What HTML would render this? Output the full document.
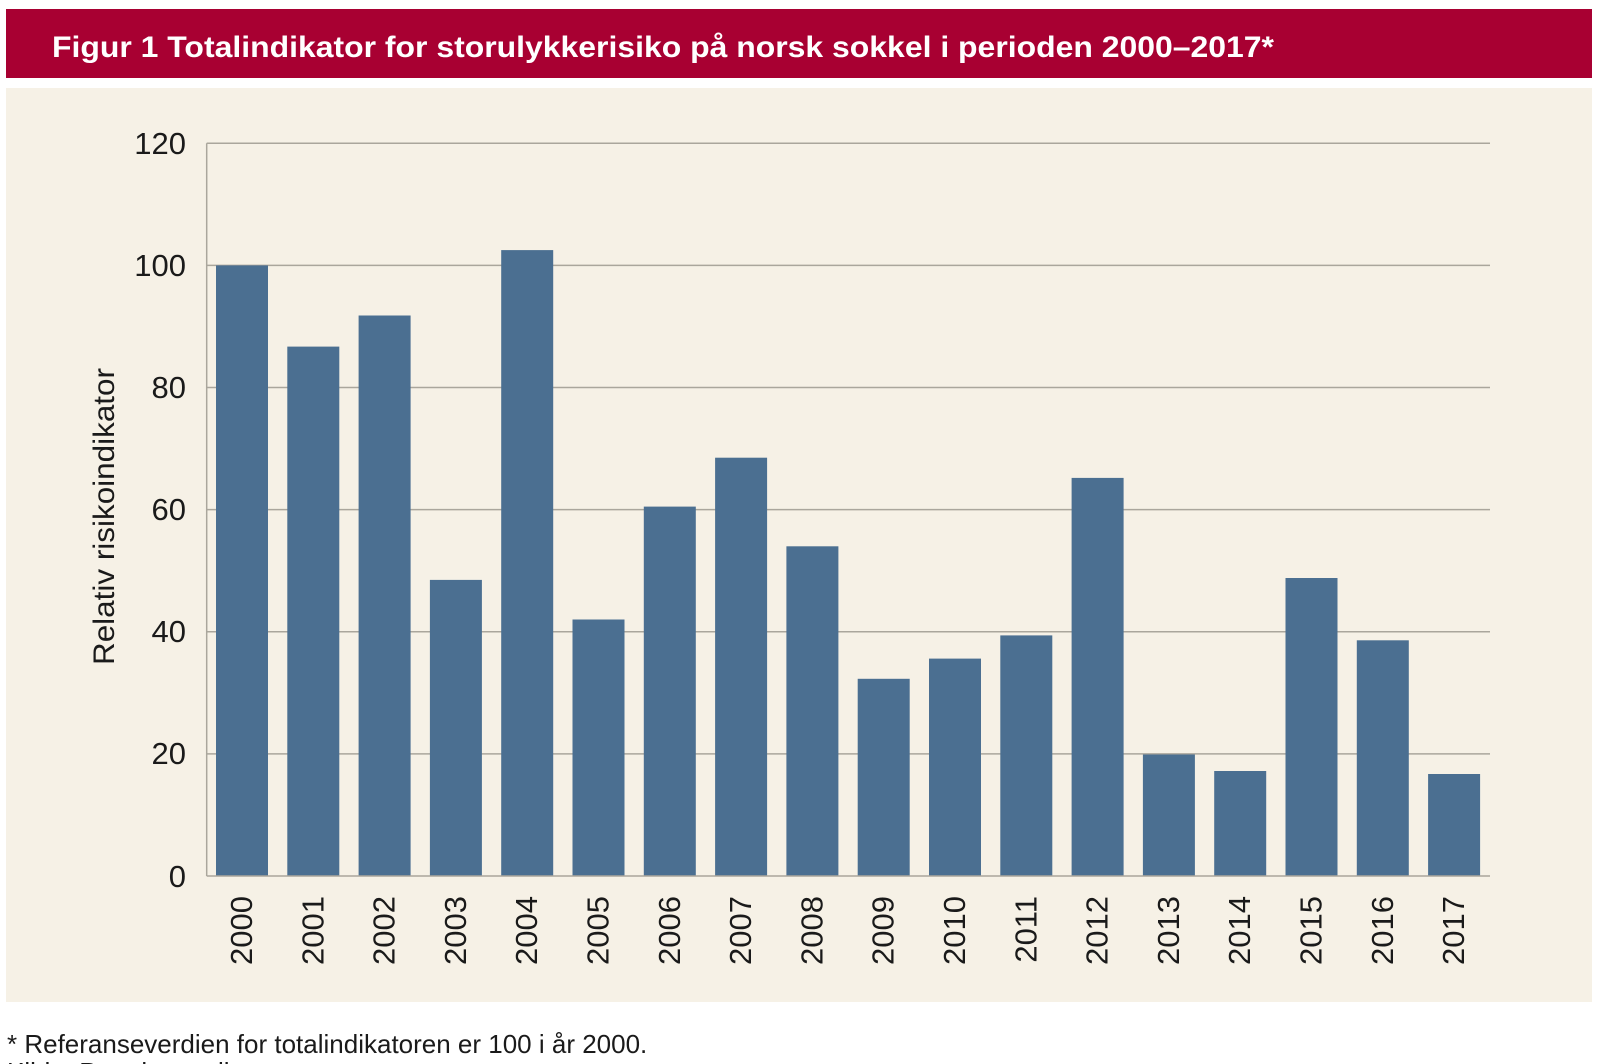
<!DOCTYPE html>
<html><head><meta charset="utf-8"><style>
html,body{margin:0;padding:0;background:#fff;}
svg{display:block}
</style></head><body>
<svg width="1599" height="1064" viewBox="0 0 1599 1064" xmlns="http://www.w3.org/2000/svg" font-family="Liberation Sans, Arial, sans-serif">
<rect x="6" y="9" width="1586" height="69" fill="#a80032"/>
<text x="52" y="57" fill="#fff" font-size="30" font-weight="bold" textLength="1222" lengthAdjust="spacingAndGlyphs">Figur 1 Totalindikator for storulykkerisiko på norsk sokkel i perioden 2000–2017*</text>
<rect x="6" y="88" width="1586" height="914" fill="#f6f1e6"/>
<g stroke="#aaa69c" stroke-width="1.5">
<line x1="206.7" y1="143.3" x2="1490" y2="143.3"/>
<line x1="206.7" y1="265.4" x2="1490" y2="265.4"/>
<line x1="206.7" y1="387.5" x2="1490" y2="387.5"/>
<line x1="206.7" y1="509.6" x2="1490" y2="509.6"/>
<line x1="206.7" y1="631.8" x2="1490" y2="631.8"/>
<line x1="206.7" y1="753.9" x2="1490" y2="753.9"/>
<line x1="206.7" y1="143.3" x2="206.7" y2="876"/>
</g>
<g fill="#4b6f91">
<rect x="216" y="265.4" width="52" height="610.6"/>
<rect x="287.3" y="346.6" width="52" height="529.4"/>
<rect x="358.6" y="315.5" width="52" height="560.5"/>
<rect x="429.9" y="579.9" width="52" height="296.1"/>
<rect x="501.2" y="250.1" width="52" height="625.9"/>
<rect x="572.5" y="619.5" width="52" height="256.5"/>
<rect x="643.8" y="506.6" width="52" height="369.4"/>
<rect x="715.1" y="457.7" width="52" height="418.3"/>
<rect x="786.4" y="546.3" width="52" height="329.7"/>
<rect x="857.7" y="678.8" width="52" height="197.2"/>
<rect x="929" y="658.6" width="52" height="217.4"/>
<rect x="1000.3" y="635.4" width="52" height="240.6"/>
<rect x="1071.6" y="477.9" width="52" height="398.1"/>
<rect x="1142.9" y="754.5" width="52" height="121.5"/>
<rect x="1214.2" y="771" width="52" height="105"/>
<rect x="1285.5" y="578" width="52" height="298"/>
<rect x="1356.8" y="640.3" width="52" height="235.7"/>
<rect x="1428.1" y="774" width="52" height="102"/>
</g>
<line x1="206.7" y1="876" x2="1490" y2="876" stroke="#aaa69c" stroke-width="1.5"/>
<g font-size="31" fill="#1a1a1a" text-anchor="end">
<text x="186" y="154">120</text>
<text x="186" y="276">100</text>
<text x="186" y="398">80</text>
<text x="186" y="520">60</text>
<text x="186" y="642">40</text>
<text x="186" y="764">20</text>
<text x="186" y="887">0</text>
</g>
<g font-size="31" fill="#1a1a1a" text-anchor="end">
<text transform="translate(252,896) rotate(-90)">2000</text>
<text transform="translate(323.3,896) rotate(-90)">2001</text>
<text transform="translate(394.6,896) rotate(-90)">2002</text>
<text transform="translate(465.9,896) rotate(-90)">2003</text>
<text transform="translate(537.2,896) rotate(-90)">2004</text>
<text transform="translate(608.5,896) rotate(-90)">2005</text>
<text transform="translate(679.8,896) rotate(-90)">2006</text>
<text transform="translate(751.1,896) rotate(-90)">2007</text>
<text transform="translate(822.4,896) rotate(-90)">2008</text>
<text transform="translate(893.7,896) rotate(-90)">2009</text>
<text transform="translate(965,896) rotate(-90)">2010</text>
<text transform="translate(1036.3,896) rotate(-90)">2011</text>
<text transform="translate(1107.6,896) rotate(-90)">2012</text>
<text transform="translate(1178.9,896) rotate(-90)">2013</text>
<text transform="translate(1250.2,896) rotate(-90)">2014</text>
<text transform="translate(1321.5,896) rotate(-90)">2015</text>
<text transform="translate(1392.8,896) rotate(-90)">2016</text>
<text transform="translate(1464.1,896) rotate(-90)">2017</text>
</g>
<text transform="translate(114,516.5) rotate(-90)" font-size="30" fill="#1a1a1a" text-anchor="middle" textLength="297" lengthAdjust="spacingAndGlyphs">Relativ risikoindikator</text>
<text x="7" y="1053" font-size="26" fill="#1a1a1a">* Referanseverdien for totalindikatoren er 100 i år 2000.</text>
<text x="7" y="1081" font-size="26" fill="#1a1a1a">Kilde: Petroleumstilsynet</text>
</svg>
</body></html>
